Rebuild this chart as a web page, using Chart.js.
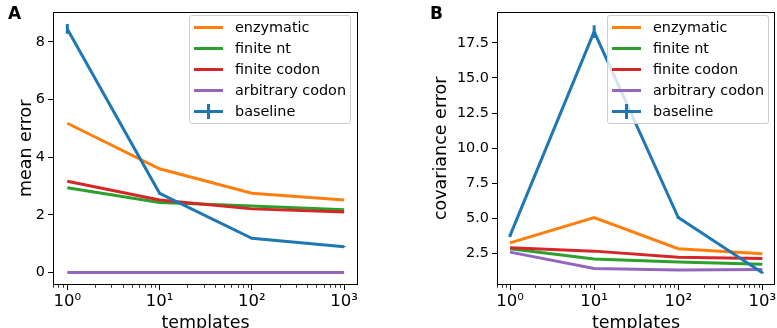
<!DOCTYPE html>
<html>
<head>
<meta charset="utf-8">
<script src="https://cdn.jsdelivr.net/npm/chart.js@4"></script>
<style>
  body { margin: 0; width: 777px; height: 328px; overflow: hidden; background: #fff; position: relative; font-family: "DejaVu Sans", sans-serif; }
  .panel { position: absolute; top: 0; height: 334px; }
  .tag { position: absolute; top: 3px; font-weight: bold; font-size: 17px; color: #000; }
  .legend { position: absolute; top: 15px; width: 162px; height: 109px; box-sizing: border-box; border: 1px solid #cccccc; border-radius: 3px; background: rgba(255,255,255,0.8); font-size: 14.4px; color: #000; }
  .legend .sw { position: absolute; left: 4px; width: 29px; height: 3px; }
  .legend .bar { position: absolute; left: 17px; width: 3px; height: 15px; }
  .legend .txt { position: absolute; left: 45px; line-height: 21px; white-space: nowrap; }
</style>
</head>
<body>
<div class="panel" style="left:0;width:390px"><canvas id="chartA"></canvas></div>
<div class="panel" style="left:390px;width:387px"><canvas id="chartB"></canvas></div>
<div class="tag" style="left:8px">A</div>
<div class="tag" style="left:430px">B</div>
<div class="legend" id="legendA" style="left:189px"></div>
<div class="legend" id="legendB" style="left:607px"></div>
<script>
// x values (number of templates) and tick labels
const templates = [1, 10, 100, 1000];
const xTickLabels = ['10⁰', '10¹', '10²', '10³'];
const seriesNames = ['enzymatic', 'finite nt', 'finite codon', 'arbitrary codon', 'baseline'];
const seriesColors = ['#ff7f0e', '#2ca02c', '#d62728', '#9467bd', '#1f77b4'];

// panel A - mean error
const meanEnzymatic = [5.18, 3.6, 2.75, 2.52];
const meanFiniteNt = [2.94, 2.43, 2.31, 2.18];
const meanFiniteCodon = [3.17, 2.52, 2.21, 2.1];
const meanArbitrary = [0, 0, 0, 0];
const meanBaseline = [8.45, 2.75, 1.19, 0.9];
const meanBaselineErr = [0.17, 0.04, 0.03, 0.02];

// panel B - covariance error
const covEnzymatic = [3.27, 5.07, 2.85, 2.5];
const covFiniteNt = [2.85, 2.12, 1.91, 1.75];
const covFiniteCodon = [2.92, 2.68, 2.24, 2.15];
const covArbitrary = [2.61, 1.45, 1.33, 1.38];
const covBaseline = [3.78, 18.3, 5.07, 1.14];
const covBaselineErr = [0.1, 0.45, 0.1, 0.05];

Chart.defaults.font.family = '"DejaVu Sans", sans-serif';
Chart.defaults.font.size = 14.4;
Chart.defaults.color = '#000';

function isDecade(v) {
  const l = Math.log10(v);
  return Math.abs(l - Math.round(l)) < 1e-6;
}

// error bars, axes frame and minor log ticks
const framePlugin = {
  id: 'frame',
  afterDatasetsDraw(chart) {
    const ctx = chart.ctx;
    const xs = chart.scales.x, ys = chart.scales.y;
    chart.data.datasets.forEach(ds => {
      if (!ds.errors) return;
      ctx.save();
      ctx.strokeStyle = ds.borderColor;
      ctx.lineWidth = 3;
      ds.data.forEach((p, i) => {
        const px = xs.getPixelForValue(p.x);
        ctx.beginPath();
        ctx.moveTo(px, ys.getPixelForValue(p.y - ds.errors[i]));
        ctx.lineTo(px, ys.getPixelForValue(p.y + ds.errors[i]));
        ctx.stroke();
      });
      ctx.restore();
    });
  },
  afterDraw(chart) {
    const ctx = chart.ctx;
    const a = chart.chartArea;
    ctx.save();
    ctx.strokeStyle = '#000';
    ctx.lineWidth = 1;
    ctx.strokeRect(Math.round(a.left) + 0.5, Math.round(a.top) + 0.5, Math.round(a.right - a.left) - 1, Math.round(a.bottom - a.top) - 1);
    ctx.lineWidth = 0.8;
    const xs = chart.scales.x;
    xs.ticks.forEach(t => {
      const v = t.value;
      const s = v / Math.pow(10, Math.floor(Math.log10(v) + 1e-9));
      if (Math.abs(s - Math.round(s)) > 1e-6 || Math.round(s) < 2) return;
      const px = Math.round(xs.getPixelForValue(v)) + 0.5;
      ctx.beginPath();
      ctx.moveTo(px, a.bottom);
      ctx.lineTo(px, a.bottom + 2.8);
      ctx.stroke();
    });
    ctx.restore();
  }
};

function makeChart(id, values, errors, yTitle, yOpts, yWidth, titlePad, padRight) {
  const datasets = seriesNames.map((name, i) => ({
    label: name,
    data: templates.map((t, j) => ({ x: t, y: values[i][j] })),
    borderColor: seriesColors[i],
    backgroundColor: seriesColors[i],
    borderWidth: 3,
    pointRadius: 0,
    tension: 0,
    fill: false,
    order: seriesNames.length - i,
    errors: name === 'baseline' ? errors : null
  }));

  return new Chart(document.getElementById(id), {
    type: 'line',
    data: { datasets },
    plugins: [framePlugin],
    options: {
      responsive: true,
      maintainAspectRatio: false,
      animation: false,
      layout: { padding: { top: 7, right: padRight, left: 0, bottom: 0 } },
      plugins: { legend: { display: false }, tooltip: { enabled: false } },
      scales: {
        x: {
          type: 'logarithmic',
          min: Math.pow(10, -0.15),
          max: Math.pow(10, 3.15),
          afterFit(scale) { scale.height = 49; },
          border: { display: false },
          grid: {
            drawOnChartArea: false,
            drawTicks: true,
            tickLength: 5,
            lineWidth: 1,
            tickColor: c => (c.tick && isDecade(c.tick.value) ? '#000' : 'rgba(0,0,0,0)')
          },
          ticks: {
            autoSkip: false,
            maxRotation: 0,
            padding: 2,
            font: { size: 16.5 },
            callback: v => {
              const idx = templates.findIndex(t => Math.abs(t - v) < 1e-6 * t);
              return idx >= 0 ? xTickLabels[idx] : '';
            }
          },
          title: { display: true, text: 'templates', font: { size: 17.5 }, padding: { top: 0, bottom: 0 } }
        },
        y: {
          min: yOpts.min,
          max: yOpts.max,
          afterFit(scale) { scale.width = yWidth; },
          border: { display: false },
          grid: { drawOnChartArea: false, drawTicks: true, tickLength: 5, tickColor: '#000', lineWidth: 1 },
          ticks: {
            stepSize: yOpts.step,
            includeBounds: false,
            padding: 3,
            callback: v => v.toFixed(yOpts.decimals)
          },
          title: { display: true, text: yTitle, font: { size: 17.5 }, padding: { top: titlePad, bottom: 0 } }
        }
      }
    }
  });
}

function makeLegend(id) {
  const box = document.getElementById(id);
  seriesNames.forEach((name, i) => {
    const cy = 11 + 21.1 * i;
    const sw = document.createElement('div');
    sw.className = 'sw';
    sw.style.top = (cy - 1.5) + 'px';
    sw.style.background = seriesColors[i];
    box.appendChild(sw);
    if (name === 'baseline') {
      const bar = document.createElement('div');
      bar.className = 'bar';
      bar.style.top = (cy - 7.5) + 'px';
      bar.style.background = seriesColors[i];
      box.appendChild(bar);
    }
    const txt = document.createElement('div');
    txt.className = 'txt';
    txt.style.top = (cy - 10.5) + 'px';
    txt.textContent = name;
    box.appendChild(txt);
  });
}

makeChart('chartA',
  [meanEnzymatic, meanFiniteNt, meanFiniteCodon, meanArbitrary, meanBaseline],
  meanBaselineErr, 'mean error',
  { min: -0.43, max: 9.05, step: 2, decimals: 0 }, 53, 15.5, 32);

makeChart('chartB',
  [covEnzymatic, covFiniteNt, covFiniteCodon, covArbitrary, covBaseline],
  covBaselineErr, 'covariance error',
  { min: 0.27, max: 19.72, step: 2.5, decimals: 1 }, 107, 40.5, 1);

makeLegend('legendA');
makeLegend('legendB');
</script>
</body>
</html>
